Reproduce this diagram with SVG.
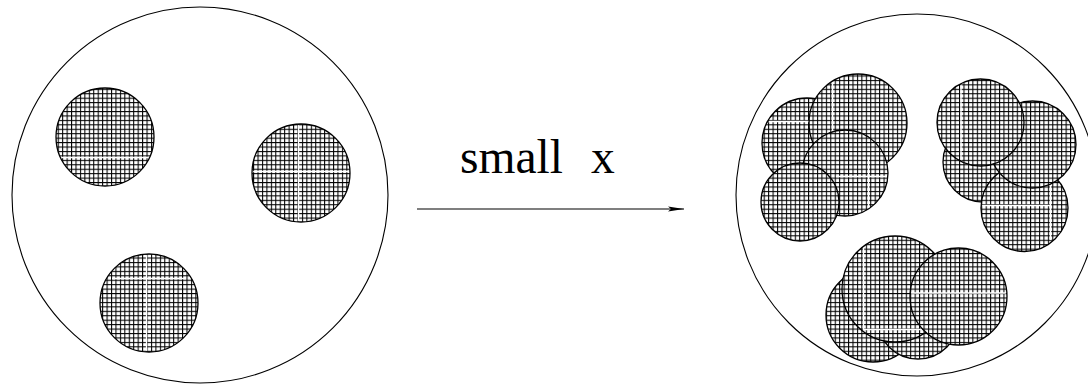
<svg xmlns="http://www.w3.org/2000/svg" width="1088" height="386" viewBox="0 0 1088 386">
<style>
.big{fill:none;stroke:#000;stroke-width:1.1}
.blob{fill:url(#grid);stroke:#000;stroke-width:1.3}
.gap{stroke:#fff;stroke-width:1.3;fill:none}
.lbl{font-family:"Liberation Serif","Times New Roman",serif;font-size:47.5px;fill:#000}
.conn{stroke:#000;stroke-width:1.1;fill:none}
</style>
<defs>
<pattern id="grid" patternUnits="userSpaceOnUse" width="4.44" height="4.44">
<rect width="4.44" height="4.44" fill="#fff"/>
<rect x="0" y="0" width="1.05" height="4.44" fill="#000"/>
<rect x="0" y="0" width="4.44" height="1.05" fill="#000"/>
</pattern>
<clipPath id="c1"><circle cx="105" cy="137" r="48"/></clipPath>
<clipPath id="c2"><circle cx="301" cy="173" r="48"/></clipPath>
<clipPath id="c3"><circle cx="149" cy="303" r="48"/></clipPath>
<clipPath id="cA"><circle cx="807" cy="143" r="44"/></clipPath>
<clipPath id="cB"><circle cx="858" cy="123" r="48"/></clipPath>
<clipPath id="cC"><circle cx="845" cy="173" r="42"/></clipPath>
<clipPath id="cE"><circle cx="980.5" cy="122.5" r="42.5"/></clipPath>
<clipPath id="cH"><circle cx="1024.5" cy="208" r="42.5"/></clipPath>
<clipPath id="cI"><circle cx="895" cy="289" r="52"/></clipPath>
<clipPath id="cJ"><circle cx="958.5" cy="296.5" r="47.5"/></clipPath>
<marker id="arr" markerWidth="16" markerHeight="6" refX="16" refY="3" orient="auto" markerUnits="userSpaceOnUse">
<path d="M0,0.5 L16,3 L0,5.5 L3,3 Z" fill="#000"/>
</marker>
</defs>
<g id="left-container">
<circle class="big" cx="200" cy="195" r="188"/>
<g id="blob-1">
<circle class="blob" cx="105" cy="137" r="49"/>
<line class="gap" x1="55" y1="157.5" x2="150" y2="157.5" clip-path="url(#c1)"/>
</g>
<g id="blob-2">
<circle class="blob" cx="301" cy="173" r="49"/>
<line class="gap" x1="298.5" y1="120" x2="298.5" y2="225" clip-path="url(#c2)"/>
<line class="gap" x1="250" y1="171.5" x2="352" y2="171.5" clip-path="url(#c2)"/>
</g>
<g id="blob-3">
<circle class="blob" cx="149" cy="303" r="49"/>
<line class="gap" x1="146.5" y1="250" x2="146.5" y2="355" clip-path="url(#c3)"/>
<line class="gap" x1="112" y1="278.5" x2="186" y2="278.5" clip-path="url(#c3)"/>
</g>
</g>
<g id="right-container">
<circle class="big" cx="917" cy="195" r="181"/>
<g id="cluster-1">
<circle class="blob" cx="807" cy="143" r="45"/>
<line class="gap" x1="760" y1="121.5" x2="812" y2="121.5" clip-path="url(#cA)"/>
<circle class="blob" cx="858" cy="123" r="49"/>
<line class="gap" x1="832.5" y1="74" x2="832.5" y2="138" clip-path="url(#cB)"/>
<circle class="blob" cx="845" cy="173" r="43"/>
<line class="gap" x1="868.5" y1="157" x2="868.5" y2="210" clip-path="url(#cC)"/>
<line class="gap" x1="836" y1="176.5" x2="890" y2="176.5" clip-path="url(#cC)"/>
<circle class="blob" cx="800" cy="202" r="39"/>
</g>
<g id="cluster-2">
<circle class="blob" cx="983" cy="162" r="40"/>
<circle class="blob" cx="1024.5" cy="208" r="43.5"/>
<line class="gap" x1="980" y1="205.5" x2="1050" y2="205.5" clip-path="url(#cH)"/>
<line class="gap" x1="1050.5" y1="185" x2="1050.5" y2="240" clip-path="url(#cH)"/>
<circle class="blob" cx="1032.5" cy="144.5" r="43.5"/>
<circle class="blob" cx="980.5" cy="122.5" r="43.5"/>
<line class="gap" x1="961" y1="80" x2="961" y2="162" clip-path="url(#cE)"/>
</g>
<g id="cluster-3">
<circle class="blob" cx="873" cy="315" r="47"/>
<circle class="blob" cx="918" cy="318" r="41"/>
<circle class="blob" cx="895" cy="289" r="53"/>
<line class="gap" x1="863.5" y1="245" x2="863.5" y2="330" clip-path="url(#cI)"/>
<line class="gap" x1="863" y1="329.5" x2="922" y2="329.5" clip-path="url(#cI)"/>
<circle class="blob" cx="958.5" cy="296.5" r="48.5"/>
<line class="gap" x1="910" y1="293" x2="1008" y2="293" clip-path="url(#cJ)"/>
</g>
</g>
<g id="connectors">
<line class="conn" x1="417" y1="209" x2="684" y2="209" marker-end="url(#arr)"/>
</g>
<g id="label">
<text class="lbl" x="460" y="173">small</text>
<text class="lbl" x="591" y="173">x</text>
</g>
</svg>
